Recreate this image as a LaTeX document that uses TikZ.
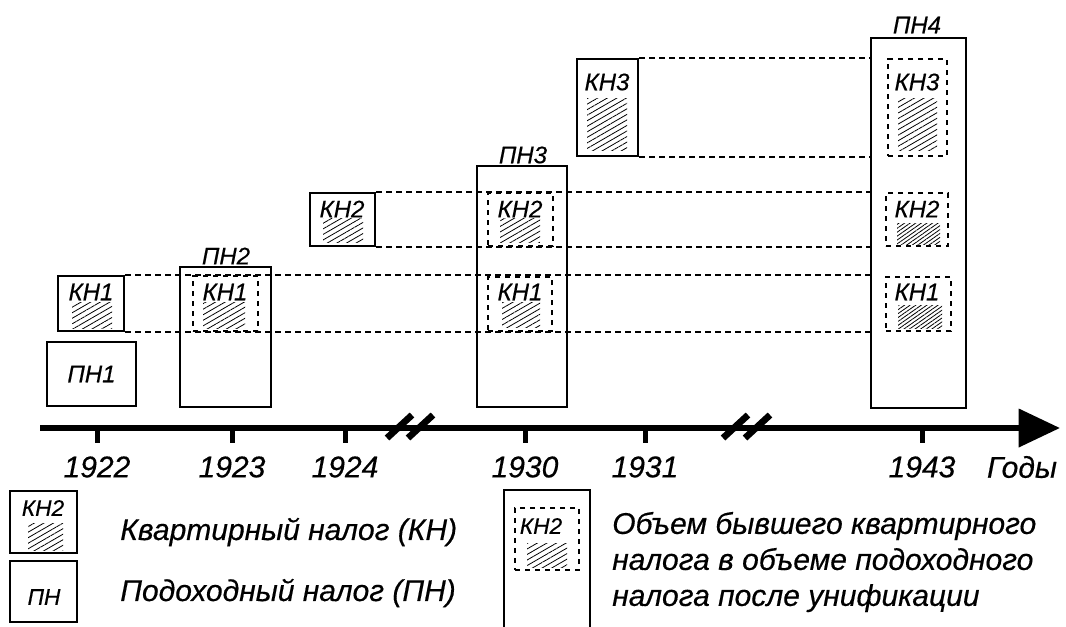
\documentclass[tikz,border=0pt]{standalone}
\usepackage{fontspec}
\setmainfont[ItalicFeatures={FakeBold=0.4}]{Liberation Sans}
\usetikzlibrary{fit,patterns.meta,arrows.meta}

\tikzset{
  pnbox/.style={draw, line width=2.1pt, inner sep=0pt},
  knbox/.style={draw, line width=1.9pt, inner sep=0pt},
  oldkn/.style={draw, line width=1.6pt, dash pattern=on 4pt off 3.5pt, inner sep=0pt},
  guide/.style={line width=1.4pt, dash pattern=on 4pt off 3.5pt},
  hatch/.style={pattern={Lines[angle=30,distance=3.6pt,line width=0.6pt]}},
  hatchd/.style={pattern={Lines[angle=35,distance=2.4pt,line width=0.6pt]}},
  lbl/.style={font=\fontsize{18}{21}\selectfont\itshape, inner sep=0pt},
  small/.style={font=\fontsize{17}{20}\selectfont\itshape, inner sep=0pt},
  yr/.style={font=\fontsize{22.5}{26}\selectfont\itshape, inner sep=0pt},
  leg/.style={font=\fontsize{22.5}{27}\selectfont\itshape, inner sep=0pt, anchor=west, align=left},
}

\begin{document}
\begin{tikzpicture}[x=0.75pt,y=-0.75pt]
\useasboundingbox (0,0) rectangle (1066,626);
% time axis
\coordinate (ax0) at (40,428);
\coordinate (ax1) at (1060,428);
\draw[line width=4.5pt, -{Triangle[length=31pt,width=28pt]}] (ax0) -- (ax1);
\foreach \x/\yr in {97/1922, 232/1923, 345/1924, 525/1930, 645/1931, 922/1943} {
  \draw[line width=3.75pt] (\x,428) -- (\x,443);
  \node[yr] (y\yr) at (\x,467) {\yr};
}
\foreach \x in {387,408,723,745}
  \draw[line width=5pt] (\x,438) -- (\x+25,415);
\node[yr] (years) at (1022,467) {Годы};

% income tax
\node[pnbox, fit={(47,342) (136,406)}] (pn1) {};
\node[pnbox, fit={(180,267) (271,407)}] (pn2) {};
\node[pnbox, fit={(477,166) (567,407)}] (pn3) {};
\node[pnbox, fit={(871,38) (966,408)}] (pn4) {};
\node[lbl] (pn1t) at (pn1) {ПН1};
\node[lbl] (pn2t) at (226,256) {ПН2};
\node[lbl] (pn3t) at (523,155) {ПН3};
\node[lbl] (pn4t) at (917,25) {ПН4};

% apartment tax
\node[knbox, fit={(58,276) (124,331)}] (kn1) {};
\node[knbox, fit={(310,193) (375,246)}] (kn2) {};
\node[knbox, fit={(577,59) (638,156)}] (kn3) {};
\node[lbl] (kn1t) at (91,292) {КН1};
\node[lbl] (kn2t) at (342,209) {КН2};
\node[lbl] (kn3t) at (607,82) {КН3};

% former apartment tax inside income tax
\node[oldkn, fit={(193,276) (258,331)}] (pn2kn1) {};
\node[oldkn, fit={(488,193) (553,246)}] (pn3kn2) {};
\node[oldkn, fit={(488,277) (552,331)}] (pn3kn1) {};
\node[oldkn, fit={(888,59) (947,156)}] (pn4kn3) {};
\node[oldkn, fit={(886,193) (948,246)}] (pn4kn2) {};
\node[oldkn, fit={(886,277) (951,331)}] (pn4kn1) {};
\node[lbl] (pn2kn1t) at (225,292) {КН1};
\node[lbl] (pn3kn2t) at (520,209) {КН2};
\node[lbl] (pn3kn1t) at (520,292) {КН1};
\node[lbl] (pn4kn3t) at (917,82) {КН3};
\node[lbl] (pn4kn2t) at (917,209) {КН2};
\node[lbl] (pn4kn1t) at (917,292) {КН1};

% guides
\foreach \k in {kn1,kn2,kn3} {
  \draw[guide] (\k.north east) -- (\k.north east -| pn4.west);
  \draw[guide] (\k.south east) -- (\k.south east -| pn4.west);
}

% hatching
\foreach \a/\b/\c/\d in {72/302/112/328, 203/302/245/328, 323/218/363/242,
  500/218/540/242, 502/302/540/327, 587/98/627/150, 898/98/937/150,
  28/523/63/550, 527/543/567/567}
  \fill[hatch] (\a,\b) rectangle (\c,\d);
\foreach \a/\b/\c/\d in {897/223/940/244, 898/305/942/328}
  \fill[hatchd] (\a,\b) rectangle (\c,\d);

% legend
\node[knbox, fit={(10,491) (77,553)}] (lgkn) {};
\node[small] (lgknt) at (43,508) {КН2};
\node[pnbox, fit={(10,561) (77,622)}] (lgpn) {};
\node[small] (lgpnt) at (44,597) {ПН};
\node[leg] (lgt1) at (120,532) {Квартирный налог (КН)};
\node[leg] (lgt2) at (120,593) {Подоходный налог (ПН)};
\draw[line width=2.1pt] (504,640) -- (504,490) -- (590,490) -- (590,640);
\node[oldkn, fit={(515,508) (579,570)}] (lgold) {};
\node[small] (lgoldt) at (541,526) {КН2};
\node[leg] (lgt3) at (612,562) {Объем бывшего квартирного\\налога в объеме подоходного\\налога после унификации};
\end{tikzpicture}
\end{document}
